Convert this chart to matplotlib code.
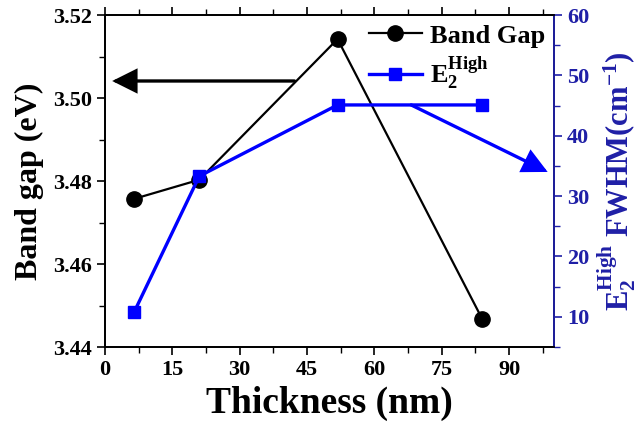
import matplotlib
matplotlib.use("Agg")
import matplotlib.pyplot as plt
from matplotlib.ticker import MultipleLocator

plt.rcParams['font.family'] = ['Liberation Serif', 'DejaVu Serif']
plt.rcParams['font.weight'] = 'bold'
plt.rcParams['mathtext.fontset'] = 'custom'
plt.rcParams['mathtext.rm'] = 'Liberation Serif:bold'
plt.rcParams['mathtext.bf'] = 'Liberation Serif:bold'
plt.rcParams['mathtext.it'] = 'Liberation Serif:bold:italic'

# Film thickness (nm)
thickness = [6.5, 21.0, 51.8, 84.0]
# Optical band gap (eV)
band_gap = [3.4757, 3.4803, 3.5142, 3.4468]
# E2(high) Raman mode FWHM (cm^-1)
e2_thickness = [6.5, 21.0, 51.8, 84.0]
e2_fwhm = [10.8, 33.3, 45.1, 45.1]

x_ticks = [0, 15, 30, 45, 60, 75, 90]
left_ticks = [3.44, 3.46, 3.48, 3.50, 3.52]
right_ticks = [10, 20, 30, 40, 50, 60]

BLUE = '#0000ff'
AXBLUE = '#1f1fa6'

fig = plt.figure(figsize=(6.41, 4.25), dpi=100)
ax = fig.add_axes([0.1638, 0.1835, 0.7004, 0.7812])
ax2 = ax.twinx()

l1, = ax.plot(thickness, band_gap, color='black', lw=1.6, marker='o',
              markersize=11, markerfacecolor='black', zorder=3)
l2, = ax2.plot(e2_thickness, e2_fwhm, color=BLUE, lw=2.4, marker='s',
               markersize=9, markerfacecolor=BLUE, markeredgecolor=BLUE, zorder=3)

ax.set_xlim(0, 100)
ax.set_ylim(3.44, 3.52)
ax2.set_ylim(5, 60)

ax.set_xticks(x_ticks)
ax.xaxis.set_minor_locator(MultipleLocator(7.5))
ax.set_yticks(left_ticks)
ax.yaxis.set_minor_locator(MultipleLocator(0.01))
ax.set_yticklabels([f'{v:.2f}' for v in left_ticks])
ax2.set_yticks(right_ticks)
ax2.yaxis.set_minor_locator(MultipleLocator(5))

ax.tick_params(axis='both', which='major', labelsize=16, length=6, width=1.2,
               direction='out')
ax.tick_params(axis='both', which='minor', length=4, width=1.0, direction='out')
ax.tick_params(axis='x', which='both', top=True)
ax2.tick_params(axis='y', which='major', labelsize=16, length=6, width=1.2,
                colors=AXBLUE, direction='out')
ax2.tick_params(axis='y', which='minor', length=4, width=1.0, colors=AXBLUE,
                direction='out')

for lab in ax.get_xticklabels() + ax.get_yticklabels() + ax2.get_yticklabels():
    lab.set_fontweight('bold')

for sp in ax.spines.values():
    sp.set_linewidth(1.3)
for sp in ax2.spines.values():
    sp.set_linewidth(1.3)
ax2.spines['right'].set_color(AXBLUE)

ax.set_xlabel('Thickness (nm)', fontsize=27, fontweight='bold', labelpad=4)
ax.set_ylabel('Band gap (eV)', fontsize=23, fontweight='bold', labelpad=6)
ax2.set_ylabel(r'$\mathrm{E_2^{High}}$ FWHM(cm$^{\mathrm{-1}}$)', fontsize=22,
               fontweight='bold', color=AXBLUE, labelpad=4)

# Arrows pointing each series to its own axis
ax.annotate('', xy=(1.6, 3.5041), xytext=(42.2, 3.5041),
            arrowprops=dict(arrowstyle='-|>,head_length=0.9,head_width=0.45',
                            mutation_scale=16, color='black', lw=2.4,
                            shrinkA=0, shrinkB=0, joinstyle='miter'))
ax2.annotate('', xy=(98.6, 34.0), xytext=(68.2, 45.1),
             arrowprops=dict(arrowstyle='-|>,head_length=0.9,head_width=0.45',
                             mutation_scale=16, color=BLUE, lw=2.4,
                             shrinkA=0, shrinkB=0, joinstyle='miter'))

leg = ax2.legend([l1, l2], ['Band Gap', r'$\mathrm{E_2^{High}}$'],
                 loc='upper right', bbox_to_anchor=(1.015, 1.02), frameon=False,
                 fontsize=19, handlelength=2.0, handletextpad=0.3,
                 numpoints=1, labelspacing=0.3, borderaxespad=0.2)
for t in leg.get_texts():
    t.set_fontweight('bold')

fig.savefig('out.png', dpi=100)
